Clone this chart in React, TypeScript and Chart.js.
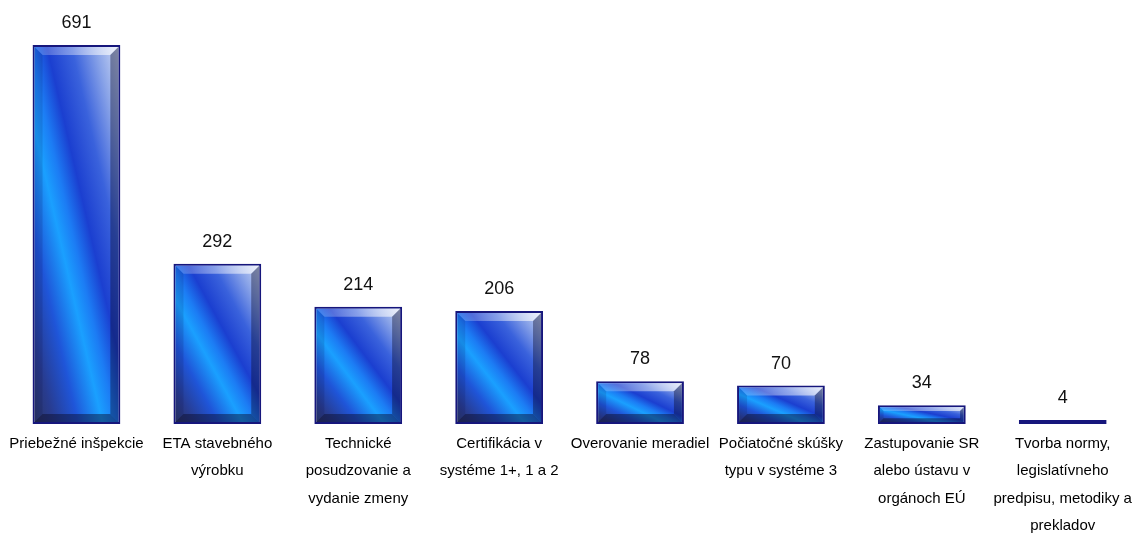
import React, { useEffect, useRef } from "react";
import { Chart, registerables } from "chart.js";

Chart.register(...registerables);

const CATEGORIES: string[][] = [
  ["Priebežné inšpekcie"],
  ["ETA stavebného", "výrobku"],
  ["Technické", "posudzovanie a", "vydanie zmeny"],
  ["Certifikácia v", "systéme 1+, 1 a 2"],
  ["Overovanie meradiel"],
  ["Počiatočné skúšky", "typu v systéme 3"],
  ["Zastupovanie SR", "alebo ústavu v", "orgánoch EÚ"],
  ["Tvorba normy,", "legislatívneho", "predpisu, metodiky a", "prekladov"],
];

const VALUES: number[] = [691, 292, 214, 206, 78, 70, 34, 4];

const BAR_PCT = 0.623;
const FONT = "'Liberation Sans', Arial, sans-serif";

function barGradient(c: any) {
  const chart = c.chart;
  const xs = chart.scales?.x;
  const ys = chart.scales?.y;
  if (!xs || !ys || c.type !== "data" || !chart.chartArea) return "#1e50e0";
  const v = c.raw as number;
  const cx = xs.getPixelForValue(c.dataIndex);
  const w = (xs.width / VALUES.length) * BAR_PCT;
  const top = ys.getPixelForValue(v);
  const base = ys.getPixelForValue(0);
  const h = Math.max(base - top, 1);
  const cy = (top + base) / 2;
  const L = Math.sqrt(h * h + w * w);
  const nx = h / L;
  const ny = -w / L;
  const k = (w * h) / L;
  const g = chart.ctx.createLinearGradient(cx - nx * k, cy - ny * k, cx + nx * k, cy + ny * k);
  g.addColorStop(0.0, "#2c3460");
  g.addColorStop(0.12, "#283c90");
  g.addColorStop(0.26, "#1f55d8");
  g.addColorStop(0.4, "#1aa0ff");
  g.addColorStop(0.48, "#1c7cf4");
  g.addColorStop(0.58, "#1b3fd0");
  g.addColorStop(0.72, "#3a62dc");
  g.addColorStop(0.86, "#8aa4e8");
  g.addColorStop(1.0, "#d4def5");
  return g;
}

const bevelPlugin = {
  id: "bevel",
  afterDatasetsDraw(chart: any) {
    const ctx = chart.ctx;
    const meta = chart.getDatasetMeta(0);
    meta.data.forEach((bar: any, i: number) => {
      const { x, y, base, width } = bar.getProps(["x", "y", "base", "width"], true);
      const Lx = x - width / 2 + 2;
      const Rx = x + width / 2 - 2;
      const T = y + 2;
      const B = base - 2;
      const hh = B - T;
      if (hh > 4) {
        const d = Math.min(8, hh / 4, width / 6);
        const poly = (pts: number[][], fill: string | CanvasGradient) => {
          ctx.beginPath();
          ctx.moveTo(pts[0][0], pts[0][1]);
          for (let j = 1; j < pts.length; j++) ctx.lineTo(pts[j][0], pts[j][1]);
          ctx.closePath();
          ctx.fillStyle = fill;
          ctx.fill();
        };
        ctx.save();
        const tg = ctx.createLinearGradient(Lx, 0, Rx, 0);
        tg.addColorStop(0, "rgba(255,255,255,0.15)");
        tg.addColorStop(1, "rgba(255,255,255,0.65)");
        poly([[Lx, T], [Rx, T], [Rx - d, T + d], [Lx + d, T + d]], tg);
        poly([[Rx, T], [Rx, B], [Rx - d, B - d], [Rx - d, T + d]], "rgba(10,10,40,0.4)");
        poly([[Lx, B], [Rx, B], [Rx - d, B - d], [Lx + d, B - d]], "rgba(10,10,40,0.45)");
        poly([[Lx, T], [Lx, B], [Lx + d, B - d], [Lx + d, T + d]], "rgba(0,0,50,0.12)");
        ctx.restore();
      }
      ctx.save();
      ctx.font = `18px ${FONT}`;
      ctx.fillStyle = "#111111";
      ctx.textAlign = "center";
      ctx.textBaseline = "middle";
      ctx.fillText(String(VALUES[i]), x, y - 22);
      ctx.restore();
    });
  },
};

export default function App() {
  const ref = useRef<HTMLCanvasElement | null>(null);
  useEffect(() => {
    document.body.style.margin = "0";
    const chart = new Chart(ref.current as HTMLCanvasElement, {
      type: "bar",
      data: {
        labels: CATEGORIES as any,
        datasets: [
          {
            data: VALUES,
            backgroundColor: barGradient as any,
            borderColor: "#16167c",
            borderWidth: 2,
            borderSkipped: false,
            minBarLength: 4,
            categoryPercentage: 1,
            barPercentage: BAR_PCT,
          },
        ],
      },
      options: {
        animation: false,
        responsive: true,
        maintainAspectRatio: false,
        layout: { padding: { top: 45, left: 6, right: 1, bottom: 0 } },
        plugins: { legend: { display: false }, tooltip: { enabled: false } },
        scales: {
          y: { display: false, min: 0, max: 691 },
          x: {
            grid: { display: false, drawTicks: false },
            border: { display: false },
            afterFit: (scale: any) => {
              scale.height = 109;
            },
            ticks: {
              autoSkip: false,
              maxRotation: 0,
              minRotation: 0,
              padding: 6,
              color: "#000000",
              font: { family: FONT, size: 15, lineHeight: 27.5 / 15 },
            },
          },
        },
      },
      plugins: [bevelPlugin],
    });
    return () => chart.destroy();
  }, []);
  return (
    <div style={{ position: "relative", width: 1138, height: 533 }}>
      <canvas ref={ref} />
    </div>
  );
}
